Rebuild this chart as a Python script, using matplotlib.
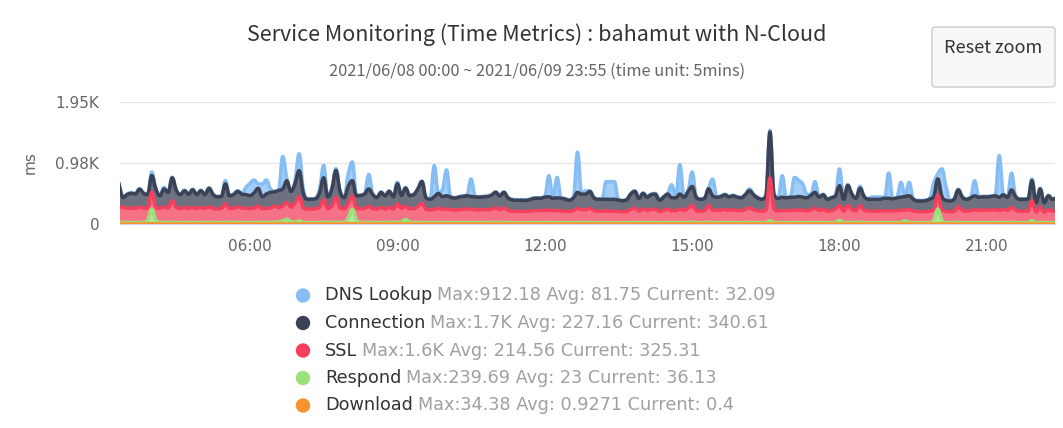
import numpy as np
import matplotlib
matplotlib.use('Agg')
import matplotlib.pyplot as plt
from matplotlib.path import Path
from matplotlib.patches import PathPatch, FancyBboxPatch, Circle
from matplotlib.transforms import IdentityTransform

plt.rcParams['font.family'] = ['DejaVu Sans']

W, H = 1063, 428

# 5-minute samples, 03:20 .. 22:25 (hours of day)
hours = 3 + 20 / 60 + np.arange(230) * 5 / 60

names = ['DNS Lookup', 'Connection', 'SSL', 'Respond', 'Download']
stats = ['Max:912.18 Avg: 81.75 Current: 32.09',
         'Max:1.7K Avg: 227.16 Current: 340.61',
         'Max:1.6K Avg: 214.56 Current: 325.31',
         'Max:239.69 Avg: 23 Current: 36.13',
         'Max:34.38 Avg: 0.9271 Current: 0.4']
colors = ['#86bdf5', '#3c4256', '#f4405d', '#9be07a', '#f7932f']

dns = [30, 10, 10, 10, 10, 10, 10, 10, 53, 10,
       10, 26, 10, 10, 10, 10, 10, 10, 10, 10,
       10, 10, 10, 10, 10, 10, 53, 10, 10, 10,
       12, 115, 195, 203, 72, 205, 223, 56, 10, 14,
       519, 28, 10, 60, 269, 60, 10, 10, 10, 60,
       198, 10, 10, 28, 10, 10, 200, 298, 10, 10,
       10, 230, 10, 10, 10, 10, 10, 10, 26, 10,
       11, 10, 10, 10, 10, 10, 10, 499, 12, 110,
       414, 10, 10, 10, 10, 10, 280, 10, 10, 10,
       10, 10, 10, 10, 10, 10, 10, 10, 10, 10,
       10, 10, 10, 10, 10, 338, 10, 326, 10, 10,
       10, 10, 644, 10, 53, 10, 10, 10, 10, 281,
       284, 284, 10, 10, 10, 10, 10, 10, 10, 10,
       10, 10, 10, 10, 10, 208, 10, 472, 10, 10,
       230, 10, 10, 10, 10, 270, 10, 10, 10, 10,
       10, 10, 10, 10, 28, 10, 10, 10, 10, 27,
       10, 10, 343, 10, 10, 316, 260, 209, 60, 10,
       172, 10, 10, 10, 10, 10, 269, 10, 16, 10,
       10, 32, 10, 10, 38, 38, 35, 10, 403, 10,
       10, 235, 10, 214, 10, 10, 10, 10, 10, 215,
       80, 441, 220, 10, 10, 10, 10, 10, 10, 241,
       10, 10, 10, 10, 10, 665, 10, 10, 268, 10,
       10, 10, 10, 28, 10, 10, 10, 10, 10, 10]

connection = [350, 163, 215, 235, 230, 285, 235, 215, 269, 290,
              201, 289, 249, 366, 275, 220, 269, 225, 285, 220,
              269, 220, 298, 220, 190, 190, 322, 201, 220, 250,
              223, 220, 207, 245, 288, 190, 230, 249, 230, 271,
              270, 349, 250, 310, 418, 240, 157, 157, 160, 230,
              354, 190, 270, 430, 260, 178, 270, 252, 201, 210,
              230, 279, 225, 183, 242, 211, 255, 195, 322, 206,
              294, 211, 225, 280, 349, 185, 172, 200, 238, 205,
              211, 200, 190, 200, 205, 211, 205, 205, 205, 205,
              210, 225, 249, 220, 249, 200, 180, 177, 177, 175,
              180, 193, 198, 198, 210, 213, 198, 205, 201, 190,
              177, 205, 259, 248, 248, 270, 205, 189, 189, 190,
              189, 189, 180, 175, 185, 245, 270, 200, 248, 210,
              235, 240, 177, 210, 238, 205, 205, 240, 210, 270,
              306, 210, 189, 198, 269, 222, 210, 218, 232, 215,
              223, 210, 205, 235, 276, 235, 205, 189, 225, 734,
              230, 201, 210, 205, 210, 210, 215, 210, 205, 230,
              254, 215, 232, 189, 205, 210, 322, 189, 322, 245,
              201, 278, 215, 190, 189, 189, 190, 201, 201, 195,
              205, 210, 215, 223, 190, 170, 170, 173, 190, 215,
              258, 215, 175, 170, 190, 268, 210, 189, 205, 223,
              210, 213, 213, 215, 223, 210, 232, 210, 282, 215,
              189, 189, 190, 322, 148, 294, 148, 221, 189, 205]

ssl = [265, 235, 230, 230, 225, 245, 230, 195, 267, 210,
       225, 245, 230, 345, 240, 225, 237, 225, 237, 225,
       237, 225, 245, 225, 220, 225, 292, 225, 225, 245,
       230, 225, 223, 230, 255, 220, 225, 230, 255, 235,
       240, 267, 230, 305, 385, 235, 215, 215, 220, 245,
       357, 220, 265, 398, 235, 220, 230, 203, 190, 220,
       225, 255, 220, 215, 237, 215, 240, 215, 292, 220,
       204, 215, 220, 255, 302, 210, 200, 210, 225, 210,
       215, 205, 200, 205, 210, 215, 210, 205, 200, 205,
       205, 210, 230, 205, 230, 195, 185, 180, 180, 180,
       180, 187, 190, 190, 195, 197, 190, 190, 187, 185,
       180, 190, 220, 205, 205, 225, 190, 183, 183, 185,
       183, 183, 180, 175, 180, 210, 225, 185, 215, 195,
       210, 213, 180, 195, 215, 190, 190, 213, 195, 225,
       265, 195, 183, 187, 265, 203, 195, 197, 210, 195,
       203, 195, 190, 210, 230, 207, 190, 183, 200, 686,
       215, 187, 195, 190, 195, 195, 200, 195, 190, 205,
       225, 195, 210, 183, 190, 215, 230, 183, 265, 210,
       187, 265, 200, 185, 183, 183, 185, 187, 187, 185,
       190, 195, 175, 203, 185, 175, 175, 177, 185, 165,
       225, 165, 180, 175, 185, 249, 195, 183, 190, 203,
       195, 197, 197, 200, 203, 195, 210, 195, 235, 200,
       183, 183, 185, 315, 170, 240, 170, 205, 183, 190]

respond = [24, 24, 25, 24, 23, 25, 24, 59, 236, 59,
           24, 25, 24, 26, 24, 23, 24, 25, 24, 23,
           24, 25, 26, 24, 23, 24, 27, 24, 24, 25,
           24, 24, 23, 24, 26, 24, 24, 25, 28, 30,
           49, 75, 39, 28, 49, 25, 23, 22, 23, 25,
           27, 24, 25, 27, 24, 23, 99, 236, 59, 24,
           24, 26, 24, 23, 24, 23, 25, 24, 27, 30,
           75, 28, 24, 24, 26, 23, 22, 24, 24, 23,
           24, 23, 22, 23, 24, 24, 23, 23, 22, 23,
           23, 24, 26, 23, 25, 22, 21, 21, 21, 21,
           21, 22, 22, 22, 23, 23, 22, 22, 22, 21,
           21, 22, 25, 23, 23, 24, 22, 21, 21, 21,
           21, 21, 21, 20, 21, 23, 25, 22, 24, 22,
           23, 23, 21, 22, 24, 22, 22, 24, 22, 25,
           28, 22, 21, 22, 28, 23, 22, 22, 23, 22,
           23, 22, 22, 23, 26, 23, 22, 21, 24, 49,
           24, 21, 22, 22, 22, 22, 23, 22, 22, 23,
           25, 22, 23, 21, 22, 24, 59, 21, 28, 23,
           22, 28, 22, 21, 21, 21, 21, 22, 22, 21,
           22, 23, 49, 24, 22, 21, 21, 21, 22, 59,
           236, 59, 22, 21, 22, 27, 22, 21, 22, 23,
           22, 22, 22, 23, 23, 22, 24, 22, 26, 22,
           21, 21, 21, 54, 21, 25, 21, 23, 21, 22]

download = [1, 1, 1, 1, 1, 1, 1, 2, 3, 1, 1, 1, 1, 1, 1, 1, 1, 1, 1, 1,
            1, 1, 1, 1, 1, 1, 1, 1, 1, 1, 1, 1, 1, 1, 1, 1, 1, 1, 1, 1,
            2, 1, 1, 1, 1, 1, 1, 1, 1, 1, 1, 1, 1, 1, 1, 1, 2, 2, 1, 1,
            1, 1, 1, 1, 1, 1, 1, 1, 1, 1, 1, 1, 1, 1, 1, 1, 1, 1, 1, 1,
            1, 1, 1, 1, 1, 1, 1, 1, 1, 1, 1, 1, 1, 1, 1, 1, 1, 1, 1, 1,
            1, 1, 1, 1, 1, 1, 1, 1, 1, 1, 1, 1, 1, 1, 1, 1, 1, 1, 1, 1,
            1, 1, 1, 1, 1, 1, 1, 1, 1, 1, 1, 1, 1, 1, 1, 1, 1, 1, 1, 1,
            1, 1, 1, 1, 1, 1, 1, 1, 1, 2, 1, 1, 1, 1, 1, 1, 1, 1, 1, 1,
            1, 1, 1, 1, 1, 1, 1, 1, 1, 1, 1, 1, 1, 1, 1, 1, 1, 1, 1, 1,
            1, 1, 1, 1, 1, 1, 1, 1, 1, 1, 1, 1, 1, 1, 1, 1, 1, 1, 1, 1,
            2, 1, 1, 1, 1, 1, 1, 1, 1, 1, 1, 1, 1, 1, 1, 1, 1, 1, 1, 1,
            1, 1, 1, 1, 1, 1, 1, 1, 1, 1]

x_ticks = [6, 9, 12, 15, 18, 21]
x_labels = ['06:00', '09:00', '12:00', '15:00', '18:00', '21:00']
y_ticks = [0, 975, 1950]
y_labels = ['0', '0.98K', '1.95K']


def spline_ctrl(x, y):
    # Highcharts-like spline control points (smoothing 1.5)
    n = len(x)
    lcx, lcy = x.copy(), y.copy()
    rcx, rcy = x.copy(), y.copy()
    s = 1.5
    d = s + 1
    for i in range(1, n - 1):
        lx, ly, px, py, nx, ny = x[i-1], y[i-1], x[i], y[i], x[i+1], y[i+1]
        a = (s * px + lx) / d
        b = (s * py + ly) / d
        c = (s * px + nx) / d
        e = (s * py + ny) / d
        if c != a:
            corr = ((e - b) * (c - px)) / (c - a) + py - e
            b += corr
            e += corr
        if b > ly and b > py:
            b = max(ly, py)
            e = 2 * py - b
        elif b < ly and b < py:
            b = min(ly, py)
            e = 2 * py - b
        if e > ny and e > py:
            e = max(ny, py)
            b = 2 * py - e
        elif e < ny and e < py:
            e = min(ny, py)
            b = 2 * py - e
        lcx[i], lcy[i], rcx[i], rcy[i] = a, b, c, e
    return lcx, lcy, rcx, rcy


def spline_verts(x, y):
    lcx, lcy, rcx, rcy = spline_ctrl(x, y)
    verts = [(x[0], y[0])]
    for i in range(1, len(x)):
        verts += [(rcx[i-1], rcy[i-1]), (lcx[i], lcy[i]), (x[i], y[i])]
    return verts


fig = plt.figure(figsize=(W / 100, H / 100), dpi=100)
ax = fig.add_axes([120 / W, 1 - 224 / H, 935 / W, 122 / H])

x = np.asarray(hours, dtype=float)
stack = [download, respond, ssl, connection, dns]
stack_colors = colors[::-1]
base = np.zeros(len(x))
layers = []
for vals in stack:
    top = base + np.asarray(vals, dtype=float)
    layers.append((base, top))
    base = top

# Highcharts draws first series (DNS) first, so reverse drawing order
for k in range(len(stack) - 1, -1, -1):
    lo, hi = layers[k]
    col = stack_colors[k]
    top_v = spline_verts(x, hi)
    bot_v = spline_verts(x[::-1], lo[::-1])
    verts = top_v + bot_v + [top_v[0]]
    codes = ([Path.MOVETO] + [Path.CURVE4] * (len(top_v) - 1) +
             [Path.LINETO] + [Path.CURVE4] * (len(bot_v) - 1) + [Path.CLOSEPOLY])
    ax.add_patch(PathPatch(Path(verts, codes), facecolor=col, alpha=0.75,
                           edgecolor='none', zorder=2 + (4 - k) * 2))
    line_codes = [Path.MOVETO] + [Path.CURVE4] * (len(top_v) - 1)
    ax.add_patch(PathPatch(Path(top_v, line_codes), facecolor='none',
                           edgecolor=col, lw=2.5, zorder=3 + (4 - k) * 2,
                           capstyle='round', joinstyle='round'))

ax.set_xlim(3.354, 22.385)
ax.set_ylim(0, 1950)
ax.set_xticks(x_ticks)
ax.set_xticklabels(x_labels)
ax.set_yticks(y_ticks)
ax.set_yticklabels(y_labels)
ax.tick_params(axis='x', length=0, pad=11, labelsize=11, labelcolor='#666666')
ax.tick_params(axis='y', length=0, pad=15, labelsize=11, labelcolor='#666666')
ax.grid(axis='y', color='#e6e6e6', lw=1, zorder=0)
ax.set_axisbelow(True)
for side in ['left', 'right', 'top']:
    ax.spines[side].set_visible(False)
ax.spines['bottom'].set_color('#ccd6eb')
ax.spines['bottom'].set_zorder(1)

fig.text(30 / W, 1 - 163 / H, 'ms', rotation=90, ha='center', va='center',
         fontsize=11, color='#666666')

fig.text(537 / W, 1 - 35 / H, 'Service Monitoring (Time Metrics) : bahamut with N-Cloud',
         ha='center', va='center', fontsize=15.5, color='#333333',
         family=['Noto Sans CJK TC', 'DejaVu Sans'])
fig.text(537 / W, 1 - 71 / H, '2021/06/08 00:00 ~ 2021/06/09 23:55 (time unit: 5mins)',
         ha='center', va='center', fontsize=11.8, color='#666666',
         family=['Noto Sans CJK TC', 'DejaVu Sans'])

# Reset zoom button
btn = FancyBboxPatch((932, H - 87), 123, 60, boxstyle='round,pad=0,rounding_size=3',
                     transform=IdentityTransform(), facecolor='#f7f7f7',
                     edgecolor='#cccccc', lw=1)
fig.patches.append(btn)
fig.text(993.5 / W, 1 - 48 / H, 'Reset zoom', ha='center', va='center',
         fontsize=13, color='#333333', family=['Noto Sans CJK TC', 'DejaVu Sans'])

# Legend
renderer = fig.canvas.get_renderer()
row_y = [295.5, 323, 350.5, 378, 405.5]
for name, st, col, ry in zip(names, stats, colors, row_y):
    fig.patches.append(Circle((303, H - ry), 7.2, transform=IdentityTransform(),
                              facecolor=col, edgecolor='none'))
    t = fig.text(325 / W, 1 - ry / H, name, ha='left', va='center',
                 fontsize=12.7, color='#333333')
    bb = t.get_window_extent(renderer=renderer)
    fig.text((bb.x1 + 5) / W, 1 - ry / H, st, ha='left', va='center',
             fontsize=12.7, color='#a0a0a0')

fig.savefig('out.png', dpi=100)
